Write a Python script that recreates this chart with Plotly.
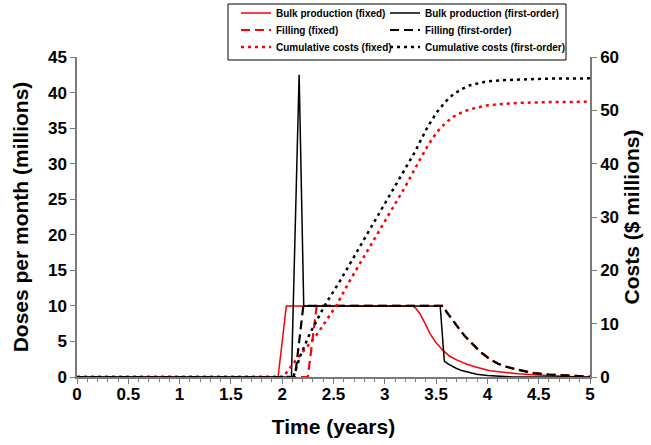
import plotly.graph_objects as go

# ---- data ----
t_bulk_fixed = [0, 1.96, 2.04, 3.27, 3.30, 3.343, 3.39, 3.44, 3.50, 3.57, 3.63, 3.70, 3.80, 3.895, 4.025, 4.15, 4.30, 4.45, 4.60, 4.75, 4.90, 5.0]
v_bulk_fixed = [0, 0, 10, 10, 9.7, 8.9, 7.6, 6.1, 4.8, 3.7, 2.95, 2.4, 1.8, 1.36, 0.89, 0.65, 0.45, 0.3, 0.18, 0.08, 0.0, 0.0]

t_bulk_first = [0, 2.09, 2.165, 2.21, 3.54, 3.58, 3.62, 3.66, 3.70, 3.75, 3.80, 3.895, 4.0, 4.1, 4.25, 5.0]
v_bulk_first = [0, 0, 42.5, 10, 10, 2.25, 1.8, 1.45, 1.2, 0.9, 0.7, 0.4, 0.2, 0.08, 0.0, 0.0]

t_fill_fixed = [0, 2.25, 2.336, 3.57, 3.60, 3.635, 3.68, 3.733, 3.78, 3.83, 3.88, 3.93, 3.98, 4.025, 4.10, 4.17, 4.26, 4.35, 4.45, 4.60, 4.77, 4.90, 5.0]
v_fill_fixed = [0, 0, 10, 10, 9.2, 8.5, 7.5, 6.6, 5.75, 5.0, 4.2, 3.55, 3.0, 2.5, 1.9, 1.5, 1.15, 0.85, 0.55, 0.35, 0.18, 0.1, 0.05]

t_fill_first = [0, 2.125, 2.206, 3.57, 3.60, 3.635, 3.68, 3.733, 3.78, 3.83, 3.88, 3.93, 3.98, 4.025, 4.10, 4.17, 4.26, 4.35, 4.45, 4.60, 4.77, 4.90, 5.0]
v_fill_first = [0, 0, 10, 10, 9.2, 8.5, 7.5, 6.6, 5.75, 5.0, 4.2, 3.55, 3.0, 2.5, 1.9, 1.5, 1.15, 0.85, 0.55, 0.35, 0.18, 0.1, 0.05]

t_cost_fixed = [0, 2.01, 2.11, 2.336, 2.531, 2.645, 3.0, 3.2, 3.343, 3.42, 3.506, 3.59, 3.668, 3.75, 3.83, 3.99, 4.15, 4.318, 4.6, 5.0]
v_cost_fixed = [0, 0, 2.6, 7.9, 13.5, 17.6, 29.2, 35.7, 40.8, 43.4, 45.9, 47.6, 48.8, 49.6, 50.2, 50.9, 51.2, 51.4, 51.55, 51.6]

t_cost_first = [0, 2.108, 2.173, 2.271, 2.417, 2.563, 3.0, 3.294, 3.343, 3.42, 3.506, 3.59, 3.668, 3.75, 3.83, 3.99, 4.15, 4.318, 4.6, 5.0]
v_cost_first = [0, 0, 3.8, 8.2, 13.5, 18.0, 32.5, 42.2, 44.1, 47.0, 49.6, 51.6, 53.0, 54.0, 54.7, 55.4, 55.65, 55.8, 55.95, 56.0]

x_ticks = [0, 0.5, 1, 1.5, 2, 2.5, 3, 3.5, 4, 4.5, 5]
x_ticklabels = ["0", "0.5", "1", "1.5", "2", "2.5", "3", "3.5", "4", "4.5", "5"]

RED = "#ff0000"
BLK = "#000000"
AX = "#7a7a7a"
FONT = "Liberation Sans, Arial, sans-serif"

L, R, T, B = 77, 61, 57, 68
W, H = 651, 445
pw, ph = W - L - R, H - T - B

def px_x(p):
    return (p - L) / pw

def px_y(p):
    return (H - B - p) / ph

fig = go.Figure()

# red series first (drawn underneath), black on top; one legend per entry for exact placement
fig.add_trace(go.Scatter(x=t_bulk_fixed, y=v_bulk_fixed, mode="lines", name="Bulk production (fixed)",
                         line=dict(color=RED, width=1.5), legend="legend", showlegend=True))
fig.add_trace(go.Scatter(x=t_fill_fixed, y=v_fill_fixed, mode="lines", name="Filling (fixed)",
                         line=dict(color=RED, width=2.2, dash="9px,5px"), legend="legend2", showlegend=True))
fig.add_trace(go.Scatter(x=t_cost_fixed, y=v_cost_fixed, mode="lines", name="Cumulative costs (fixed)", yaxis="y2",
                         line=dict(color=RED, width=2.5, dash="3px,4px"), legend="legend3", showlegend=True))
fig.add_trace(go.Scatter(x=t_bulk_first, y=v_bulk_first, mode="lines", name="Bulk production (first-order)",
                         line=dict(color=BLK, width=1.5), legend="legend4", showlegend=True))
fig.add_trace(go.Scatter(x=t_fill_first, y=v_fill_first, mode="lines", name="Filling (first-order)",
                         line=dict(color=BLK, width=2.2, dash="9px,5px"), legend="legend5", showlegend=True))
fig.add_trace(go.Scatter(x=t_cost_first, y=v_cost_first, mode="lines", name="Cumulative costs (first-order)", yaxis="y2",
                         line=dict(color=BLK, width=2.5, dash="3px,4px"), legend="legend6", showlegend=True))

legend_font = dict(family=FONT, size=10, color="black", weight="bold")
rows_y = [13, 30, 47]
col_x = [236, 385]
legends = {}
k = 1
for cx in col_x:
    for ry in rows_y:
        key = "legend" if k == 1 else f"legend{k}"
        legends[key] = dict(x=px_x(cx), y=px_y(ry), xanchor="left", yanchor="middle",
                            bgcolor="rgba(0,0,0,0)", borderwidth=0, font=legend_font, visible=True)
        k += 1

fig.update_layout(
    width=W, height=H,
    showlegend=True,
    margin=dict(l=L, r=R, t=T, b=B, autoexpand=False),
    paper_bgcolor="white", plot_bgcolor="white",
    font=dict(family=FONT, color="black"),
    xaxis=dict(range=[0, 5], tickvals=x_ticks, ticktext=x_ticklabels, showgrid=False, zeroline=False,
               showline=True, linecolor=AX, linewidth=1.5, ticks="outside", ticklen=5, tickcolor=AX,
               minor=dict(dtick=0.1, tick0=0, ticks="outside", ticklen=3, tickcolor=AX),
               ticklabelstandoff=-4,
               tickfont=dict(family=FONT, size=17, weight="bold", color="black"),
               title=dict(text="Time (years)", font=dict(family=FONT, size=21, weight="bold", color="black"), standoff=16)),
    yaxis=dict(range=[0, 45], dtick=5, tick0=0, showgrid=False, zeroline=False,
               showline=True, linecolor=AX, linewidth=1.5, ticks="outside", ticklen=5, tickcolor=AX,
               tickfont=dict(family=FONT, size=17, weight="bold", color="black"),
               title=dict(text="Doses per month (millions)", font=dict(family=FONT, size=21, weight="bold", color="black"), standoff=14)),
    yaxis2=dict(range=[0, 60], dtick=10, tick0=0, overlaying="y", side="right", showgrid=False, zeroline=False,
                showline=True, linecolor=AX, linewidth=1.5, ticks="outside", ticklen=5, tickcolor=AX,
                tickfont=dict(family=FONT, size=17, weight="bold", color="black"),
                title=dict(text="Costs ($ millions)", font=dict(family=FONT, size=21, weight="bold", color="black"), standoff=6)),
    shapes=[dict(type="rect", xref="paper", yref="paper", x0=px_x(228), x1=px_x(566), y0=px_y(60), y1=px_y(4),
                 line=dict(color="black", width=1), fillcolor="rgba(0,0,0,0)", layer="above")],
    **legends,
)

fig.write_html("out.html")
